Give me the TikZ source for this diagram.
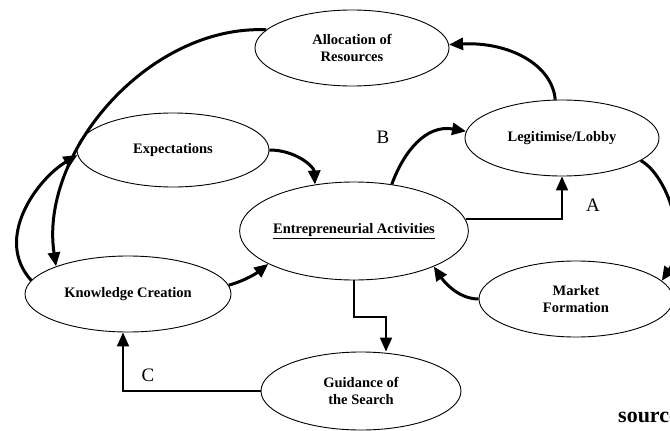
\documentclass[tikz,border=0pt]{standalone}
\usepackage{fontspec}
\setmainfont{Liberation Serif}
\usetikzlibrary{shapes.geometric,arrows.meta}
\begin{document}
\begin{tikzpicture}[x=1pt,y=-1pt,
        proc/.style={draw,ellipse,line width=0.9pt,inner sep=0pt,align=center,
            font=\bfseries\fontsize{14.5}{17}\selectfont},
        flow/.style={line width=3pt,-{Triangle[length=14pt,width=12pt]}},
        ortho/.style={line width=2pt,-{Triangle[length=14pt,width=12pt]}},
        lbl/.style={font=\fontsize{19}{21}\selectfont}]
        \useasboundingbox (0,0) rectangle (670,431);
        % functions
        \node[proc,minimum width=194pt,minimum height=76pt] (alloc) at (352,48) {Allocation of\\Resources};
        \node[proc,minimum width=192pt,minimum height=74pt] (exp) at (173,150) {Expectations};
        \node[proc,minimum width=194pt,minimum height=76pt] (legit) at (562,138) {Legitimise/Lobby};
        \node[proc,minimum width=228pt,minimum height=98pt] (ent) at (354,231) {\underline{Entrepreneurial Activities}};
        \node[proc,minimum width=206pt,minimum height=76pt] (know) at (128,294) {Knowledge Creation};
        \node[proc,minimum width=194pt,minimum height=76pt] (market) at (576,299) {Market\\Formation};
        \node[proc,minimum width=200pt,minimum height=78pt] (guid) at (361,391) {Guidance of\\the Search};
        % motors
        \node[lbl] (labB) at (383,137) {B};
        \node[lbl] (labA) at (593,205) {A};
        \node[lbl] (labC) at (148,375) {C};
        \node[anchor=base west,inner sep=0pt,font=\bfseries\fontsize{22}{24}\selectfont] (src) at (618,422) {source};
        % interactions
        \draw[flow] (legit.100) .. controls +(-3,-35) and +(60,-3) .. (alloc.2);
        \draw[flow] (alloc.168) .. controls +(-118,-5) and +(-17,-113) .. (know.159);
        \draw[flow] (know.172) .. controls +(-38,-42) and +(-40,24) .. (exp.183);
        \draw[flow] (exp.east) .. controls +(26,0) and +(-1,-18) .. (ent.130);
        \draw[flow] (know.5) .. controls +(18,-5) and +(-10,8) .. (ent.201);
        \draw[flow] (ent.51) .. controls +(12,-33) and +(-40,-7) .. (legit.176);
        \draw[flow] (legit.-16) .. controls +(27,15) and +(27,-40) .. (market.12);
        \draw[flow] (market.west) .. controls +(-22,0) and +(8,12) .. (ent.-24.5);
        \draw[ortho] (ent.6) -| (legit.south);
        \draw[ortho] (ent.south) -- ++(0,37) -| ([xshift=25pt]guid.north);
        \draw[ortho] (guid.west) -| ([xshift=-5pt]know.south);
\end{tikzpicture}
\end{document}
